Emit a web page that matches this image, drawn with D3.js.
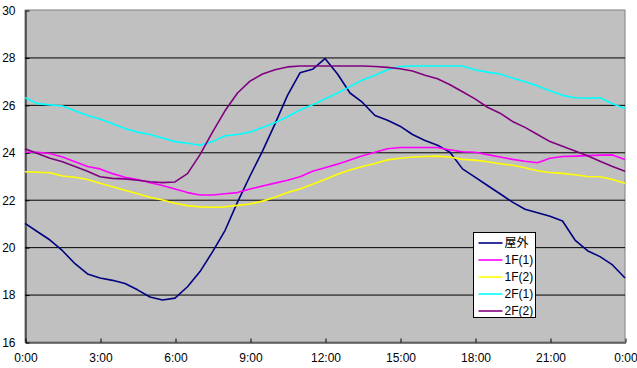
<!DOCTYPE html>
<html>
<head>
<meta charset="utf-8">
<script src="https://cdn.jsdelivr.net/npm/d3@7"></script>
<style>
  body { margin: 0; background: #fff; }
  text { font-family: "Liberation Sans", "Noto Sans CJK JP", sans-serif; }
</style>
</head>
<body>
<div id="chart"></div>
<script>
// time of day in hours (0:00 .. next 0:00), every 30 min
var hours = [0,0.5,1,1.5,2,2.5,3,3.5,4,4.5,5,5.5,6,6.5,7,7.5,8,8.5,9,9.5,10,10.5,11,11.5,
  12,12.5,13,13.5,14,14.5,15,15.5,16,16.5,17,17.5,18,18.5,19,19.5,20,20.5,21,21.5,22,22.5,23,23.5,24];

var outdoor = [21.0,20.65,20.3,19.85,19.3,18.87,18.7,18.6,18.47,18.2,17.9,17.77,17.85,18.33,18.97,19.8,20.7,21.9,23.0,24.05,
  25.2,26.4,27.35,27.5,27.95,27.3,26.5,26.1,25.55,25.35,25.1,24.75,24.5,24.3,24.0,23.3,22.95,22.6,22.25,21.9,
  21.6,21.45,21.3,21.1,20.3,19.85,19.6,19.25,18.7];
var f1a = [24.0,24.0,23.95,23.8,23.6,23.4,23.3,23.1,22.95,22.85,22.72,22.6,22.45,22.3,22.2,22.2,22.25,22.3,22.45,22.58,
  22.7,22.82,22.97,23.2,23.35,23.5,23.67,23.85,24.0,24.15,24.2,24.2,24.2,24.2,24.1,24.02,24.0,23.9,23.8,23.7,
  23.62,23.56,23.75,23.82,23.84,23.86,23.88,23.89,23.7];
var f1b = [23.18,23.16,23.14,23.0,22.95,22.85,22.69,22.55,22.4,22.25,22.1,21.99,21.85,21.75,21.7,21.68,21.7,21.76,21.82,21.94,
  22.1,22.3,22.45,22.65,22.85,23.07,23.25,23.4,23.53,23.68,23.75,23.8,23.82,23.84,23.8,23.7,23.67,23.6,23.52,23.45,
  23.35,23.22,23.15,23.11,23.05,22.98,22.97,22.85,22.69];
var f2a = [26.3,26.05,26.0,25.95,25.75,25.55,25.4,25.2,25.0,24.85,24.75,24.6,24.45,24.38,24.3,24.45,24.7,24.75,24.85,25.05,
  25.25,25.5,25.78,26.0,26.25,26.5,26.77,27.05,27.25,27.48,27.62,27.64,27.64,27.64,27.64,27.64,27.48,27.38,27.3,27.13,
  26.97,26.8,26.6,26.4,26.3,26.28,26.3,26.05,25.85];
var f2b = [24.15,23.95,23.75,23.6,23.4,23.2,22.97,22.9,22.88,22.82,22.76,22.72,22.75,23.1,23.9,24.85,25.75,26.5,27.0,27.3,
  27.48,27.6,27.64,27.64,27.64,27.64,27.64,27.64,27.62,27.58,27.52,27.43,27.25,27.1,26.85,26.55,26.25,25.9,25.65,25.3,
  25.05,24.75,24.45,24.25,24.05,23.85,23.62,23.4,23.2];

var seriesNames = ["屋外", "1F(1)", "1F(2)", "2F(1)", "2F(2)"];
var seriesColors = ["#000080", "#ff00ff", "#ffff00", "#00ffff", "#800080"];
var seriesValues = [outdoor, f1a, f1b, f2a, f2b];

var yTicks = [16, 18, 20, 22, 24, 26, 28, 30];
var xTicks = [0, 3, 6, 9, 12, 15, 18, 21, 24];

var width = 637, height = 368;
var margin = {left: 25, right: 12, top: 10, bottom: 26};

var svg = d3.select("#chart").append("svg")
    .attr("width", width)
    .attr("height", height);

var x = d3.scaleLinear().domain([0, 24]).range([margin.left, width - margin.right]);
var y = d3.scaleLinear().domain([16, 30]).range([height - margin.bottom, margin.top]);

// plot area
svg.append("rect")
    .attr("x", x(0)).attr("y", y(30))
    .attr("width", x(24) - x(0)).attr("height", y(16) - y(30))
    .attr("fill", "#c0c0c0")
    .attr("stroke", "#808080");

// grid lines
svg.append("g").selectAll("line")
    .data(yTicks.filter(function(d) { return d > 16 && d < 30; }))
    .enter().append("line")
    .attr("x1", x(0)).attr("x2", x(24))
    .attr("y1", function(d) { return y(d) + 0.5; })
    .attr("y2", function(d) { return y(d) + 0.5; })
    .attr("stroke", "#000")
    .attr("stroke-width", 1);

// axes
var yAxis = svg.append("g")
    .attr("transform", "translate(" + (x(0) + 0.5) + ",0.5)")
    .call(d3.axisLeft(y).tickValues(yTicks).tickSizeInner(-4).tickSizeOuter(0).tickPadding(10));
var xAxis = svg.append("g")
    .attr("transform", "translate(0.5," + (y(16) + 0.5) + ")")
    .call(d3.axisBottom(x).tickValues(xTicks).tickSizeInner(-4).tickSizeOuter(0).tickPadding(11)
      .tickFormat(function(d) { return (d % 24) + ":00"; }));

[yAxis, xAxis].forEach(function(a) {
  a.selectAll("path, line").attr("stroke", "#000");
  a.selectAll("text").attr("fill", "#000").style("font-size", "12px");
});

// series
var line = d3.line()
    .x(function(d, i) { return x(hours[i]); })
    .y(function(d) { return y(d); });

svg.append("g").selectAll("path")
    .data(seriesValues)
    .enter().append("path")
    .attr("d", line)
    .attr("fill", "none")
    .attr("stroke", function(d, i) { return seriesColors[i]; })
    .attr("stroke-width", 1.6)
    .attr("stroke-linejoin", "round");

// legend
var legend = svg.append("g").attr("transform", "translate(473.5,232.5)");
legend.append("rect")
    .attr("width", 62).attr("height", 85)
    .attr("fill", "#fff").attr("stroke", "#000");

var items = legend.selectAll("g.item")
    .data(seriesNames)
    .enter().append("g")
    .attr("class", "item")
    .attr("transform", function(d, i) { return "translate(0," + (10.5 + i * 17) + ")"; });

items.append("line")
    .attr("x1", 5).attr("x2", 29)
    .attr("stroke", function(d, i) { return seriesColors[i]; })
    .attr("stroke-width", 1.6);

items.append("text")
    .attr("x", 31)
    .attr("dy", "0.35em")
    .style("font-size", "12px")
    .text(function(d) { return d; });
</script>
</body>
</html>
